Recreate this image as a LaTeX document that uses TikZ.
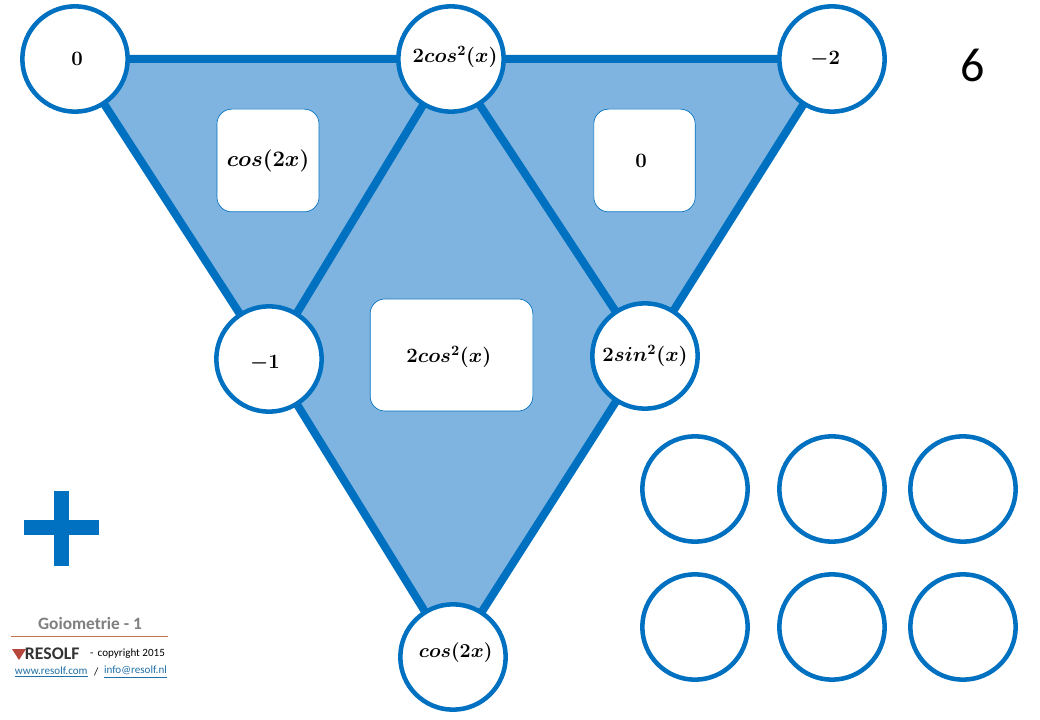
\RequirePackage{fix-cm}
\documentclass[tikz,border=0pt]{standalone}
\usepackage{amssymb}
\usepackage{amsmath}
\usepackage{fontspec}
\setmainfont{Carlito}
\usepackage{tikz}
\usetikzlibrary{positioning, backgrounds}
\definecolor{lineBlue}{HTML}{0070C0}
\definecolor{fillBlue}{HTML}{7FB4E0}
\definecolor{footGray}{HTML}{7F7F7F}
\definecolor{footRule}{HTML}{C0714A}
\definecolor{logoRed}{HTML}{B5473C}
\definecolor{linkBlue}{HTML}{1F6FA8}
\tikzset{
    x=0.75pt, y=-0.75pt,
    every node/.style={inner sep=0pt, outer sep=0pt},
    every label/.style={font=\fontsize{15.3}{17}\selectfont\boldmath},
    wideMath/.style={font=\fontsize{16.6}{18}\selectfont\boldmath},
    circ/.style={circle, draw=lineBlue, line width=3.4pt, fill=white, minimum size=79pt},
    tile/.style={rectangle, rounded corners=11pt, draw=lineBlue, line width=0.5pt, fill=white},
    rib/.style={line width=6pt, draw=lineBlue},
    foot/.style={anchor=west, font=\fontsize{8.3}{10}\selectfont},
}

\begin{document}
\begin{tikzpicture}
    \useasboundingbox (0,0) rectangle (1040,720);
    % corner and edge circles
    \node[circ, label={[xshift=1.5pt]center:$0$}] (n0) at (75,59) {};
    \node[circ, label={[xshift=3pt, yshift=1.5pt]center:$2cos^2(x)$}] (nTop) at (451,59) {};
    \node[circ, label={[xshift=-5pt]center:$-2$}] (nRight) at (832,59) {};
    \node[circ, label={[xshift=-3pt, yshift=-3pt]center:$-1$}] (nLeft) at (269,359) {};
    \node[circ, label={center:$2sin^2(x)$}] (nSin) at (645,356) {};
    \node[circ, label={[font=\fontsize{14.8}{17}\selectfont\boldmath, xshift=2pt, yshift=3pt]center:$cos(2x)$}] (nBot) at (453,657) {};
    % empty circles
    \node[circ] (e1) at (695,489) {};
    \node[circ] (e2) at (832,489) {};
    \node[circ] (e3) at (963,489) {};
    \node[circ] (e4) at (695,627) {};
    \node[circ] (e5) at (832,627) {};
    \node[circ] (e6) at (963,627) {};
    % tiles
    \node[tile, minimum width=76.5pt, minimum height=77pt, label={[wideMath]center:$cos(2x)$}] (t1) at (268,160.5) {};
    \node[tile, minimum width=76pt, minimum height=77pt, label={[xshift=-2.5pt]center:$0$}] (t2) at (644.5,160.5) {};
    \node[tile, minimum width=122pt, minimum height=84pt, label={[xshift=-2pt, yshift=-1.5pt]center:$2cos^2(x)$}] (t3) at (451.5,355) {};
    \begin{scope}[on background layer]
        \fill[fillBlue] (n0.center) -- (nRight.center) -- (nBot.center) -- cycle;
        \draw[rib]
        (n0) -- (nTop)
        (nTop) -- (nRight)
        (n0) -- (nLeft)
        (nLeft) -- (nBot)
        (nRight) -- (nSin)
        (nSin) -- (nBot)
        (nTop) -- (nLeft)
        (nTop.-58) -- (nSin);
    \end{scope}
    % number and plus sign
    \node[font=\fontsize{36}{40}\selectfont] (num) at (973,65) {6};
    \fill[lineBlue] (24,520) rectangle (99,535);
    \fill[lineBlue] (54,491) rectangle (69,566);
    % footer
    \node[font=\fontsize{13}{15}\selectfont\bfseries, text=footGray] (title) at (90,623) {Goiometrie - 1};
    \coordinate (ruleL) at (11,636);
    \coordinate (ruleR) at (168,636);
    \draw[footRule, line width=0.75pt] (ruleL) -- (ruleR);
    \fill[logoRed] (12,649) -- (26,649) -- (19,660) -- cycle;
    \node[foot, font=\fontsize{13.3}{15}\selectfont\bfseries, text=black!80] (logo) at (25,654) {RESOLF};
    \node[foot] (copy) at (90,654) {-\, copyright 2015};
    \node[foot, text=linkBlue] (web) at (15,672) {\underline{www.resolf.com}};
    \node[foot] (slash) at (94,672) {/};
    \node[foot, text=linkBlue] (mail) at (104,672) {\underline{info@resolf.nl}};
\end{tikzpicture}
\end{document}
